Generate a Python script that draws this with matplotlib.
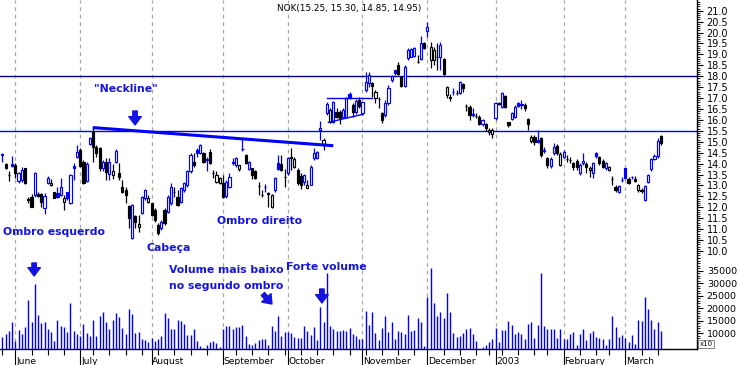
import numpy as np
import pandas as pd
import matplotlib
matplotlib.use('Agg')
import matplotlib.pyplot as plt
from matplotlib.ticker import MultipleLocator, FormatStrFormatter, FixedLocator
import matplotlib.transforms as mtransforms

# ---------------- data ----------------
opens = [14.40, 13.97, 13.49, 14.00, 13.94, 13.20, 13.25, 13.79, 12.35, 12.49,
         12.57, 12.63, 12.60, 11.98, 13.13, 13.00, 12.69, 12.67, 12.57, 12.26,
         12.69, 12.18, 13.91, 14.32, 14.62, 14.09, 13.22, 14.88, 15.46, 14.78,
         14.70, 13.79, 14.09, 13.51, 13.48, 14.09, 13.56, 12.95, 12.80, 12.06,
         10.58, 11.58, 11.09, 11.73, 12.42, 12.26, 12.19, 11.88, 11.19, 11.04,
         11.88, 11.80, 12.19, 12.72, 12.49, 12.26, 12.80, 13.03, 13.64, 14.09,
         14.63, 14.47, 14.47, 14.18, 14.55, 13.59, 13.18, 13.10, 13.10, 12.54,
         12.95, 14.09, 13.94, 13.76, 14.65, 14.40, 13.76, 13.79, 13.66, 12.99,
         12.55, 12.93, 12.66, 12.03, 12.80, 14.02, 13.97, 13.41, 13.56, 14.30,
         13.86, 13.71, 13.45, 13.18, 12.90, 13.03, 14.27, 14.27, 15.55, 14.86,
         16.30, 15.92, 15.89, 16.38, 16.35, 16.15, 16.15, 17.17, 16.68, 16.38,
         16.91, 16.30, 17.37, 17.68, 17.71, 16.99, 16.96, 16.30, 16.23, 16.76,
         17.83, 18.29, 18.52, 17.95, 17.55, 18.82, 18.90, 18.93, 18.66, 18.77,
         19.54, 20.09, 18.74, 18.74, 18.90, 18.87, 18.77, 17.14, 17.03, 17.28,
         17.25, 17.22, 17.64, 16.66, 16.58, 16.23, 16.20, 16.15, 15.82, 15.82,
         15.45, 15.36, 16.07, 16.76, 16.58, 17.10, 15.92, 16.03, 16.15, 16.79,
         16.70, 16.68, 16.03, 15.04, 15.24, 15.06, 15.16, 14.60, 14.24, 13.90,
         14.47, 14.81, 13.94, 14.29, 14.22, 14.18, 14.02, 14.14, 13.56, 14.02,
         13.99, 13.70, 13.59, 14.47, 14.29, 14.14, 13.79, 13.71, 13.29, 12.95,
         12.72, 13.25, 13.79, 13.28, 13.37, 13.28, 12.80, 12.77, 12.34, 13.18,
         13.74, 14.22, 14.35, 15.25]
highs = [14.47, 14.05, 13.66, 14.37, 14.02, 13.63, 13.86, 13.82, 12.45, 12.60,
         13.60, 12.72, 12.64, 12.64, 13.43, 13.30, 12.72, 12.95, 13.33, 12.57,
         12.72, 13.51, 14.01, 14.85, 14.70, 14.17, 14.09, 15.23, 15.65, 14.85,
         14.78, 14.17, 14.24, 14.24, 14.00, 14.66, 14.02, 13.25, 12.95, 12.11,
         12.16, 11.65, 11.65, 12.52, 12.83, 12.57, 12.22, 11.96, 11.27, 11.42,
         11.96, 12.57, 13.10, 12.95, 12.80, 12.95, 13.18, 13.71, 14.47, 14.47,
         14.70, 14.89, 14.55, 14.29, 14.66, 13.71, 13.64, 13.40, 13.48, 13.25,
         13.56, 14.24, 14.32, 13.94, 15.13, 14.44, 14.12, 13.82, 13.71, 13.18,
         12.80, 13.06, 12.70, 12.60, 13.41, 14.40, 14.40, 13.76, 14.32, 14.70,
         14.30, 13.79, 13.56, 13.51, 13.25, 13.94, 14.70, 14.60, 15.93, 15.19,
         16.80, 16.53, 16.87, 16.53, 16.46, 16.53, 17.07, 17.26, 16.76, 16.96,
         17.07, 16.87, 18.21, 18.21, 17.75, 17.37, 17.07, 16.38, 16.91, 17.60,
         18.05, 18.30, 18.66, 18.00, 18.50, 19.28, 19.28, 19.32, 18.97, 19.84,
         19.58, 20.50, 19.58, 19.35, 19.50, 19.58, 18.82, 17.55, 17.19, 17.45,
         17.37, 17.80, 17.70, 16.73, 16.68, 16.53, 16.30, 16.23, 16.05, 15.88,
         15.62, 15.62, 16.84, 16.84, 17.29, 17.14, 15.92, 16.38, 16.68, 16.84,
         16.90, 16.76, 16.07, 15.30, 15.31, 15.54, 15.22, 14.78, 14.32, 14.32,
         14.93, 14.90, 14.55, 14.63, 14.40, 14.29, 14.09, 14.20, 14.02, 14.47,
         14.09, 13.90, 14.09, 14.55, 14.35, 14.20, 14.09, 13.90, 13.44, 13.03,
         13.03, 13.41, 13.82, 13.37, 13.44, 13.44, 13.07, 12.87, 13.03, 13.53,
         14.25, 14.45, 15.16, 15.30]
lows = [14.09, 13.74, 13.21, 13.86, 13.33, 13.10, 13.18, 13.07, 12.20, 12.00,
        12.49, 12.47, 12.03, 11.68, 13.07, 12.99, 12.41, 12.44, 12.54, 11.88,
        12.32, 12.15, 13.25, 14.24, 13.86, 13.07, 13.18, 14.85, 14.09, 14.32,
        13.66, 13.64, 13.25, 13.25, 13.30, 14.05, 13.25, 12.64, 12.19, 11.04,
        10.54, 11.04, 10.89, 11.70, 12.34, 12.19, 11.58, 11.35, 10.74, 10.97,
        11.19, 11.73, 12.11, 12.49, 12.06, 12.19, 12.72, 12.95, 13.56, 13.86,
        14.32, 14.44, 14.02, 13.64, 13.98, 13.33, 13.10, 13.05, 12.41, 12.44,
        12.87, 13.94, 13.86, 13.66, 14.58, 13.97, 13.71, 13.30, 13.30, 12.57,
        12.49, 12.72, 12.03, 11.95, 12.72, 13.71, 13.66, 12.95, 13.48, 13.70,
        13.79, 13.03, 12.84, 13.03, 12.87, 13.00, 14.17, 14.20, 15.08, 14.63,
        16.23, 15.85, 15.85, 16.07, 15.80, 16.07, 16.07, 16.96, 16.15, 16.26,
        16.56, 16.23, 17.29, 17.52, 17.07, 16.76, 16.53, 15.85, 16.15, 16.68,
        17.75, 18.06, 18.05, 17.50, 17.50, 18.74, 18.87, 18.90, 18.59, 18.74,
        19.23, 19.81, 18.36, 18.52, 18.29, 18.29, 18.06, 16.99, 16.88, 17.14,
        17.14, 17.19, 17.30, 16.43, 16.00, 16.15, 16.10, 15.77, 15.70, 15.51,
        15.30, 15.16, 16.00, 16.70, 16.53, 16.53, 15.66, 16.00, 16.07, 16.58,
        16.50, 16.40, 15.54, 14.93, 14.85, 14.93, 14.30, 14.47, 13.80, 13.79,
        14.40, 14.40, 13.90, 14.25, 14.09, 14.05, 13.71, 13.70, 13.48, 13.94,
        13.56, 13.40, 13.33, 14.25, 13.94, 13.79, 13.71, 13.65, 13.03, 12.72,
        12.67, 13.18, 13.29, 13.07, 13.28, 13.15, 12.72, 12.64, 12.31, 13.10,
        13.68, 14.15, 14.25, 14.85]
closes = [14.43, 13.79, 13.48, 13.90, 13.56, 13.58, 13.71, 13.10, 12.40, 12.03,
          13.56, 12.52, 12.23, 12.54, 13.33, 13.10, 12.44, 12.49, 12.95, 12.41,
          12.43, 13.48, 13.82, 14.52, 13.91, 13.10, 14.00, 15.18, 14.75, 14.47,
          13.79, 14.09, 13.63, 14.09, 13.66, 14.60, 13.41, 12.72, 12.57, 11.50,
          12.11, 11.35, 11.24, 12.46, 12.77, 12.42, 11.65, 11.42, 10.81, 11.35,
          11.27, 12.49, 12.95, 12.70, 12.11, 12.87, 13.10, 13.64, 14.40, 13.94,
          14.47, 14.86, 14.09, 14.21, 14.05, 13.56, 13.48, 13.33, 12.49, 13.18,
          13.41, 14.02, 14.27, 13.94, 14.68, 14.02, 14.06, 13.48, 13.33, 12.98,
          12.57, 12.95, 12.60, 12.55, 13.33, 13.76, 13.71, 13.40, 14.27, 14.26,
          14.20, 13.10, 13.03, 13.48, 13.00, 13.86, 14.47, 14.55, 15.62, 15.08,
          16.71, 16.46, 16.80, 16.15, 16.07, 16.46, 16.99, 17.02, 16.38, 16.87,
          16.65, 16.80, 17.75, 18.06, 17.55, 17.30, 16.94, 16.00, 16.76, 17.45,
          18.00, 18.13, 18.10, 17.55, 18.44, 19.20, 19.23, 19.28, 18.64, 19.54,
          19.28, 20.27, 19.35, 19.20, 18.87, 19.43, 18.10, 17.49, 17.00, 17.30,
          17.24, 17.75, 17.45, 16.64, 16.23, 16.26, 16.18, 15.82, 16.00, 15.62,
          15.55, 15.54, 16.79, 16.75, 17.25, 16.61, 15.77, 16.33, 16.61, 16.63,
          16.72, 16.53, 15.81, 15.20, 14.99, 15.00, 14.40, 14.62, 13.94, 14.20,
          14.78, 14.47, 14.45, 14.55, 14.20, 14.17, 13.86, 13.84, 13.94, 14.14,
          13.86, 13.80, 14.02, 14.35, 14.02, 13.83, 14.05, 13.86, 13.28, 12.77,
          12.98, 13.26, 13.33, 13.10, 13.38, 13.20, 13.03, 12.76, 12.98, 13.48,
          14.20, 14.35, 15.05, 14.95]
volumes = [8530, 9720, 11050, 14500, 7070, 11320, 9720, 12510, 23400, 14500,
           29640, 17160, 14100, 14500, 11850, 10390, 7070, 15300, 12910, 12510,
           10520, 22070, 11050, 9720, 8920, 13710, 10250, 8920, 15300, 8920,
           16890, 18620, 14500, 11580, 15300, 18090, 16630, 12110, 9720, 19680,
           17690, 10120, 10520, 7600, 7330, 6530, 8130, 7070, 7600, 8920,
           18090, 16100, 11580, 11850, 15300, 14770, 13710, 9460, 9460, 11850,
           7070, 4940, 4140, 5200, 6530, 6930, 6000, 4670, 11580, 12910,
           12910, 11580, 12510, 12510, 13440, 8920, 5740, 5200, 6000, 7200,
           7730, 7730, 5200, 12910, 10780, 16890, 8920, 10520, 10520, 9990,
           8390, 8130, 8130, 12910, 10780, 9460, 12510, 7330, 20480, 14500,
           33890, 12910, 11850, 11050, 10920, 11320, 10920, 12110, 9720, 8920,
           7730, 7730, 18880, 13310, 18490, 10120, 7330, 12110, 16890, 10520,
           14500, 7730, 10920, 10520, 9720, 17290, 10920, 11320, 16100, 14500,
           4940, 24460, 36020, 22070, 16890, 18490, 16100, 26060, 18490, 10120,
           8530, 8920, 10120, 11710, 12110, 9720, 6930, 3000, 4540, 5340,
           6530, 7730, 12250, 6530, 11320, 11320, 14900, 13310, 9720, 10520,
           9720, 7730, 13710, 14500, 8130, 13310, 34020, 12910, 11710, 11710,
           11710, 8130, 11710, 7730, 7730, 9720, 10520, 5340, 9720, 11710,
           7330, 10120, 10920, 8530, 8130, 7730, 5340, 7730, 16890, 12510,
           8530, 9320, 8130, 6530, 9320, 5740, 15300, 14900, 24460, 19680,
           15300, 11710, 14500, 10920]

holidays = ['2002-07-04', '2002-09-02', '2002-11-28', '2002-12-25',
            '2003-01-01', '2003-01-20', '2003-02-17']
month_labels = ['June', 'July', 'August', 'September', 'October',
                'November', 'December', '2003', 'February', 'March']
title_text = 'NOK(15.25, 15.30, 14.85, 14.95)'
hlines = [18.0, 15.5]
neckline_x = [27.85, 102.0]
neckline_y = [15.65, 14.82]
flag_top_x = [100.0, 113.8]
flag_top_y = [17.02, 17.02]
flag_low_x = [100.5, 111.2]
flag_low_y = [15.89, 16.26]

# ---------------- prep ----------------
dates = pd.bdate_range('2002-05-28', '2003-03-18')
dates = dates[~dates.isin(pd.to_datetime(holidays))]
O = np.array(opens); H = np.array(highs); L = np.array(lows); C = np.array(closes)
V = np.array(volumes)
n = len(C)
x = np.arange(n)
prevC = np.r_[C[0], C[:-1]]
BLUE = '#0000ff'
TXT = '#1414e0'
cols = np.where(C >= prevC, BLUE, '#000000')
filled = C < O
faces = np.where(filled, cols, '#ffffff')

mstarts = [i for i in range(1, n) if dates[i].month != dates[i - 1].month]
wstarts = [0] + [i for i in range(1, n)
                 if dates[i].isocalendar()[1] != dates[i - 1].isocalendar()[1]]

W, Hpx = 738, 365
fig = plt.figure(figsize=(W / 100, Hpx / 100), dpi=100)
axp = fig.add_axes([0, 1 - 258 / Hpx, 697 / W, 258 / Hpx])
axv = fig.add_axes([0, 1 - 349 / Hpx, 697 / W, 91 / Hpx])

xlim = (-0.72, 214.1)
for ax in (axp, axv):
    ax.set_xlim(*xlim)
    ax.set_facecolor('white')
    for s in ('top', 'left'):
        ax.spines[s].set_visible(False)
    ax.spines['right'].set_linewidth(1.0)
    for m in mstarts:
        ax.axvline(m, color='#a8a8a8', lw=0.9, dashes=(3, 3), zorder=0)
axp.spines['bottom'].set_visible(False)
axv.spines['bottom'].set_linewidth(1.0)

axp.set_ylim(9.68, 21.49)
axv.set_ylim(3745, 40000)

# price candles
axp.vlines(x, L, H, colors=cols, linewidth=0.9, zorder=3)
body_h = np.abs(C - O)
axp.bar(x, body_h, bottom=np.minimum(O, C), width=0.66, color=faces,
        edgecolor=cols, linewidth=0.85, zorder=4)

axp.axhline(hlines[0], color='#00008b', lw=1.0, zorder=2)
axp.axhline(hlines[1], color=BLUE, lw=1.0, zorder=2)
axp.plot(neckline_x, neckline_y, color=BLUE, lw=2.2, solid_capstyle='butt', zorder=5)
axp.plot(flag_top_x, flag_top_y, color=BLUE, lw=1.0, zorder=5)
axp.plot(flag_low_x, flag_low_y, color=BLUE, lw=1.0, zorder=5)

# volume bars
axv.vlines(x, 0, V, colors=BLUE, linewidth=1.0, zorder=3)

# right axes
axp.yaxis.tick_right()
axp.yaxis.set_major_locator(MultipleLocator(0.5))
axp.yaxis.set_minor_locator(MultipleLocator(0.1))
axp.yaxis.set_major_formatter(FormatStrFormatter('%.1f'))
axp.tick_params(axis='y', which='major', length=4.5, width=0.8, pad=2.5,
                labelsize=7, direction='out')
axp.tick_params(axis='y', which='minor', length=2.2, width=0.6, direction='out')
axp.set_xticks([])

axv.yaxis.tick_right()
axv.yaxis.set_major_locator(FixedLocator([10000, 15000, 20000, 25000, 30000, 35000]))
axv.yaxis.set_minor_locator(MultipleLocator(1000))
axv.tick_params(axis='y', which='major', length=4.5, width=0.8, pad=2.5,
                labelsize=6.8, direction='out')
axv.tick_params(axis='y', which='minor', length=2.2, width=0.6, direction='out')

axv.set_xticks(mstarts)
axv.set_xticks(wstarts, minor=True)
axv.set_xticklabels([])
axv.tick_params(axis='x', which='major', length=11.5, width=0.8, direction='out')
axv.tick_params(axis='x', which='minor', length=4.3, width=0.8, direction='out')
trans = mtransforms.blended_transform_factory(axv.transData, axv.transAxes)
for m, lab in zip(mstarts, month_labels):
    axv.text(m + 0.25, -0.135, lab, transform=trans, ha='left', va='center',
             fontsize=6.6, color='black', clip_on=False)

# title
fig.text(349 / W, 1 - 8 / Hpx, title_text, ha='center', va='center', fontsize=6.4)
fig.text(706 / W, 1 - 344 / Hpx, 'x10', ha='center', va='center', fontsize=5,
         bbox=dict(boxstyle='square,pad=0.15', fc='white', ec='#707070', lw=0.6))

# annotations
fkw = dict(color=TXT, fontsize=7.8, fontweight='bold', family='DejaVu Sans',
           ha='center', va='center', zorder=6)
axp.text(38.2, 17.41, '"Neckline"', **fkw)
axp.text(0.15, 10.89, 'Ombro esquerdo', **{**fkw, 'ha': 'left'})
axp.text(51.3, 10.13, 'Cabeça', **fkw)
axp.text(79.2, 11.36, 'Ombro direito', **fkw)
axv.text(68.9, 35100, 'Volume mais baixo', **fkw)
axv.text(69.1, 28840, 'no segundo ombro', **fkw)
axv.text(100.0, 36530, 'Forte volume', **fkw)

akw = dict(arrowstyle='simple,head_length=0.6,head_width=0.9,tail_width=0.32',
           color=TXT, shrinkA=0, shrinkB=0, mutation_scale=10)
axp.annotate('', xy=(40.9, 15.77), xytext=(40.9, 16.41), arrowprops=akw)
axv.annotate('', xy=(9.8, 32830), xytext=(9.8, 38010), arrowprops=akw)
axv.annotate('', xy=(83.1, 21670), xytext=(80.3, 25660), arrowprops=akw)
axv.annotate('', xy=(98.5, 22070), xytext=(98.5, 27650), arrowprops=akw)

fig.savefig('out.png', dpi=100)
